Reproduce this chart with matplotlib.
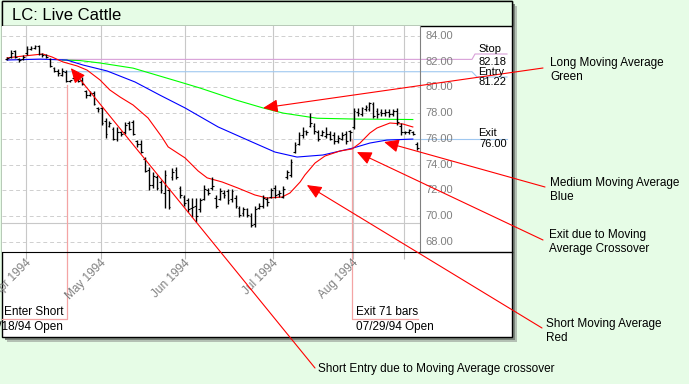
import numpy as np
import matplotlib
matplotlib.use("Agg")
import matplotlib.pyplot as plt
from matplotlib.patches import Rectangle
from matplotlib.lines import Line2D
import matplotlib.transforms as mtransforms

plt.rcParams['font.family'] = ['Liberation Sans', 'DejaVu Sans']

#%% Data
# daily OHLC bars, Apr - mid Aug 1994
highs = [82.4, 82.9, 82.9, 82.3, 82.5, 83.2, 83.2, 83.3, 83.3, 82.7,
         82.6, 82.3, 81.6, 81.4, 81.5, 81.35, 80.6, 81.0, 81.1, 80.8,
         79.8, 79.7, 79.7, 78.5, 78.5, 77.6, 77.4, 76.9, 76.9, 76.6,
         77.3, 77.4, 77.45, 75.9, 75.9, 74.6, 73.8, 73.4, 73.2, 72.8,
         73.6, 72.2, 73.7, 73.8, 72.3, 71.6, 71.4, 71.4, 71.4, 71.4,
         72.4, 72.2, 73.0, 71.6, 72.2, 72.0, 72.1, 72.1, 71.6, 70.8,
         70.7, 70.6, 70.2, 70.8, 71.0, 71.6, 71.5, 72.2, 72.4, 72.0,
         72.3, 73.6, 74.4, 75.75, 76.5, 76.9, 76.7, 78.0, 77.2, 76.7,
         76.7, 76.9, 76.6, 76.5, 76.3, 76.5, 76.6, 76.7, 78.4, 78.4,
         78.5, 78.6, 78.9, 78.9, 78.4, 78.3, 78.3, 78.3, 78.3, 78.4,
         77.2, 76.6, 76.8, 76.6, 75.75]
lows = [82.1, 82.3, 82.3, 82.0, 82.1, 82.5, 82.9, 83.0, 82.5, 82.4,
        82.3, 81.6, 81.2, 80.9, 80.9, 80.4, 80.4, 80.6, 80.4, 80.2,
        79.2, 79.3, 78.6, 78.1, 77.1, 76.1, 76.9, 75.9, 75.8, 76.2,
        76.4, 76.7, 76.3, 75.4, 74.9, 73.4, 72.0, 72.2, 72.0, 71.8,
        70.6, 70.5, 72.8, 72.9, 71.4, 70.8, 70.3, 69.9, 69.5, 70.3,
        71.2, 71.6, 72.0, 70.6, 71.2, 71.4, 70.9, 71.1, 70.6, 69.9,
        70.0, 69.9, 69.1, 69.1, 70.5, 70.6, 70.8, 71.4, 71.4, 71.5,
        71.4, 72.9, 73.0, 74.9, 75.5, 76.1, 76.3, 76.9, 76.4, 75.8,
        76.2, 76.1, 75.9, 75.6, 75.7, 75.9, 75.6, 75.8, 76.8, 77.8,
        77.8, 78.2, 78.2, 77.6, 77.6, 77.8, 77.8, 77.7, 77.8, 77.1,
        76.3, 76.4, 76.4, 76.3, 75.1]
opens = [82.2, 82.4, 82.8, 82.2, 82.2, 82.7, 83.0, 83.1, 83.2, 82.6,
         82.5, 82.2, 81.5, 81.3, 81.0, 81.2, 80.5, 80.7, 81.0, 80.6,
         79.7, 79.4, 79.6, 78.4, 78.4, 77.4, 77.0, 76.8, 76.0, 76.5,
         76.5, 77.2, 77.3, 75.8, 75.6, 74.4, 73.6, 72.4, 73.0, 72.6,
         71.8, 72.0, 73.0, 73.6, 72.2, 71.5, 71.2, 70.6, 70.8, 70.5,
         71.3, 72.0, 72.2, 71.4, 71.3, 71.8, 71.9, 71.3, 71.4, 70.6,
         70.2, 70.5, 70.0, 69.4, 70.6, 70.8, 71.3, 71.5, 72.2, 71.7,
         71.5, 73.0, 73.2, 75.0, 75.6, 76.3, 76.6, 77.0, 77.0, 76.5,
         76.3, 76.2, 76.4, 76.3, 75.8, 76.0, 76.4, 76.6, 76.9, 78.1,
         77.9, 78.3, 78.3, 78.7, 78.2, 78.1, 78.0, 78.1, 77.9, 78.2,
         77.0, 76.5, 76.5, 76.5, 75.6]
closes = [82.3, 82.7, 82.4, 82.1, 82.4, 83.0, 83.1, 83.2, 82.6, 82.5,
          82.4, 81.7, 81.3, 81.1, 81.3, 80.5, 80.6, 80.9, 80.5, 80.3,
          79.4, 79.6, 78.7, 78.3, 77.2, 76.4, 77.2, 76.0, 76.5, 76.4,
          77.1, 76.8, 76.4, 75.6, 75.0, 73.5, 72.4, 73.1, 72.2, 72.0,
          73.2, 70.7, 73.4, 73.0, 71.6, 71.0, 70.5, 70.7, 70.0, 71.2,
          72.1, 71.8, 72.3, 70.8, 71.9, 71.6, 71.2, 71.9, 70.8, 70.1,
          70.5, 70.1, 69.3, 70.5, 70.8, 71.4, 71.1, 72.0, 71.6, 71.8,
          72.1, 73.4, 74.2, 75.5, 76.3, 76.6, 76.5, 77.2, 76.6, 76.0,
          76.5, 76.4, 76.0, 75.8, 76.1, 76.3, 75.8, 76.5, 78.2, 78.0,
          78.4, 78.5, 78.8, 77.8, 77.9, 78.0, 78.1, 77.9, 78.2, 77.3,
          76.5, 76.5, 76.7, 76.4, 75.3]

# moving averages, sampled at bar positions
short_x = [0, 2.0, 9.1, 11.4, 14.2, 17.8, 20.3, 23.6, 26.1, 28.7, 32.0, 35.8,
           39.3, 40.9, 45.2, 48.5, 50.8, 54.6, 58.6, 62.9, 66.0, 69.8, 71.8,
           74.4, 75.6, 78.2, 80.7, 84.5, 87.6, 89.6, 92.1, 93.9, 97.2, 100.5, 103.0]
short_ma = [82.29, 82.37, 82.6, 82.37, 81.98, 81.67, 81.35, 80.58, 79.8, 79.25,
            78.63, 77.62, 76.14, 75.37, 74.51, 73.5, 72.96, 72.64, 72.17, 71.63,
            71.39, 71.47, 71.78, 72.64, 73.18, 74.12, 74.66, 75.05, 75.21, 75.67,
            76.45, 76.84, 77.23, 77.15, 76.92]
med_x = [0, 8.4, 15.2, 19.3, 25.4, 32.5, 38.8, 45.2, 53.6, 62.2, 68.0, 73.6,
         80.2, 87.8, 92.1, 96.4, 103.0]
med_ma = [82.13, 82.2, 82.13, 81.74, 81.28, 80.42, 79.4, 78.4, 76.92, 75.75,
          74.97, 74.58, 74.74, 75.28, 75.67, 75.9, 75.98]
long_x = [14.0, 18.5, 23.6, 32.0, 43.9, 49.0, 58.1, 65.0, 70.1, 78.7, 87.8, 103.0]
long_ma = [82.13, 82.09, 81.9, 81.5, 80.42, 79.95, 79.02, 78.4, 78.0, 77.6,
           77.54, 77.5]

month_idx = [4.8, 23.9, 45.2, 67.5, 87.8, 100.8]
month_labels = ['Apr 1994', 'May 1994', 'Jun 1994', 'Jul 1994', 'Aug 1994', '']
price_ticks = [68, 70, 72, 74, 76, 78, 80, 82, 84]

entry_idx, exit_idx = 15.2, 87.6
stop_level, entry_level, exit_level = 82.18, 81.22, 76.00

#%% Layout helpers (pixel geometry of the screenshot)
W, H = 689, 384
BG = '#e6fce6'
def fx(px): return px / W
def fy(py): return 1 - py / H
def px_i(px): return (px - 7) / 3.94          # pixel x -> bar index
def py_p(py): return 84 - (py - 36) / 12.85   # pixel y -> price

fig = plt.figure(figsize=(W / 100, H / 100), dpi=100, facecolor=BG)

# panel with shadow and title band
fig.add_artist(Rectangle((fx(7), fy(342)), fx(517) - fx(7), fy(6) - fy(342),
                         transform=fig.transFigure, facecolor='#b4c0b4',
                         edgecolor='none', zorder=-4))
fig.add_artist(Rectangle((fx(5), fy(340)), fx(515) - fx(5), fy(4) - fy(340),
                         transform=fig.transFigure, facecolor='#7c867c',
                         edgecolor='none', zorder=-3))
fig.add_artist(Rectangle((fx(2), fy(337)), fx(512) - fx(2), fy(1) - fy(337),
                         transform=fig.transFigure, facecolor='white',
                         edgecolor='black', lw=1, zorder=-2))
fig.add_artist(Rectangle((fx(2), fy(26)), fx(512) - fx(2), fy(1) - fy(26),
                         transform=fig.transFigure, facecolor=BG,
                         edgecolor='black', lw=1, zorder=-1))
fig.text(fx(12), fy(15), 'LC: Live Cattle', fontsize=12, va='center', ha='left')

ax = fig.add_axes([fx(2), fy(252), fx(420) - fx(2), fy(26) - fy(252)])
ax.set_xlim(px_i(2), px_i(420))
ax.set_ylim(py_p(252), py_p(26))
ax.set_facecolor('white')
for s in ['left', 'top']:
    ax.spines[s].set_visible(False)
ax.spines['right'].set_color('#808080')
ax.spines['bottom'].set_color('black')
ax.set_yticks([])
ax.set_xticks(month_idx)
ax.set_xticklabels([])
ax.tick_params(axis='x', length=5, color='#b8b8b8', direction='out')

# grid
for p in price_ticks:
    ax.axhline(p, color='#cfcfcf', lw=0.7, ls=(0, (4, 3)), zorder=0)
    ax.text(px_i(425), p, f'{p:.2f}', color='#808080', fontsize=8,
            va='center', ha='left', clip_on=False)
for m in month_idx:
    ax.axvline(m, color='#c8c8c8', lw=0.8, zorder=0)
ax.axhline(py_p(223), color='#c8c8c8', lw=0.8, zorder=0)

tr = mtransforms.blended_transform_factory(ax.transData, ax.transAxes)
for m, lab in zip(month_idx, month_labels):
    ax.text(m + 2.0, -0.022, lab, transform=tr, rotation=45, ha='right',
            va='top', color='#808080', fontsize=8.5, clip_on=False)

# stop / entry / exit levels
ax.plot([0, px_i(472), px_i(475), px_i(507)],
        [stop_level, stop_level, py_p(54), py_p(54)],
        color='#d8a0d8', lw=0.8, clip_on=False, zorder=1)
ax.plot([px_i(63), px_i(472), px_i(477), px_i(507)],
        [entry_level, entry_level, py_p(77), py_p(77)],
        color='#a0c8f0', lw=0.8, clip_on=False, zorder=1)
ax.plot([exit_idx, px_i(507)], [exit_level, exit_level],
        color='#a0c8f0', lw=0.8, clip_on=False, zorder=1)
fig.text(fx(478), fy(49), 'Stop', fontsize=8, va='center', ha='left')
fig.text(fx(507), fy(62), f'{stop_level:.2f}', fontsize=8, va='center', ha='right')
fig.text(fx(478), fy(72), 'Entry', fontsize=8, va='center', ha='left')
fig.text(fx(507), fy(82), f'{entry_level:.2f}', fontsize=8, va='center', ha='right')
fig.text(fx(478), fy(133), 'Exit', fontsize=8, va='center', ha='left')
fig.text(fx(507), fy(144), f'{exit_level:.2f}', fontsize=8, va='center', ha='right')

# entry / exit brackets
ax.plot([entry_idx, entry_idx, px_i(2)], [py_p(85), py_p(319), py_p(319)],
        color='#f4a4a4', lw=0.9, clip_on=False, zorder=1)
ax.plot([exit_idx, exit_idx, px_i(418)], [exit_level, py_p(319), py_p(319)],
        color='#f4a4a4', lw=0.9, clip_on=False, zorder=1)
fig.text(fx(64), fy(312), 'Enter Short', fontsize=8.5, va='center', ha='right')
fig.text(fx(63), fy(327), '04/18/94 Open', fontsize=8.5, va='center', ha='right')
fig.text(fx(356), fy(312), 'Exit 71 bars', fontsize=8.5, va='center', ha='left')
fig.text(fx(356), fy(327), '07/29/94 Open', fontsize=8.5, va='center', ha='left')

# moving averages
ax.plot(long_x, long_ma, color='#00ff00', lw=0.8, zorder=2)
ax.plot(med_x, med_ma, color='#0000ff', lw=0.8, zorder=2)
ax.plot(short_x, short_ma, color='#ff0000', lw=0.8, zorder=2)

# OHLC bars
idx = np.arange(len(highs))
ax.vlines(idx, lows, highs, color='black', lw=1.0, zorder=3)
ax.hlines(opens, idx - 0.45, idx, color='black', lw=0.8, zorder=3)
ax.hlines(closes, idx, idx + 0.45, color='black', lw=0.8, zorder=3)

# annotations
notes = [
    ('Long Moving Average\nGreen', (550, 70), (543, 68), (65.0, 78.4)),
    ('Medium Moving Average\nBlue', (550, 190), (545, 187), (95.7, 75.75)),
    ('Exit due to Moving\nAverage Crossover', (549, 242), (543, 240), (88.8, 74.97)),
    ('Short Moving Average\nRed', (546, 331), (542, 328), (76.1, 72.4)),
    ('Short Entry due to Moving Average crossover', (318, 369), (315, 368), (16.2, 81.5)),
]
for txt, tpos, lpos, tip in notes:
    fig.text(fx(tpos[0]), fy(tpos[1]), txt, fontsize=8.5, va='center',
             ha='left', linespacing=1.3)
    ax.annotate('', xy=tip, xycoords='data',
                xytext=(fx(lpos[0]), fy(lpos[1])), textcoords='figure fraction',
                arrowprops=dict(arrowstyle='-|>,head_length=0.9,head_width=0.4',
                                color='red', lw=0.8, shrinkA=0, shrinkB=0,
                                mutation_scale=10),
                annotation_clip=False, zorder=10)

# bottom rule across the full panel
fig.add_artist(Line2D([fx(420), fx(512)], [fy(252), fy(252)],
                      transform=fig.transFigure, color='black', lw=1))

fig.savefig('out.png', dpi=100, facecolor=BG)
